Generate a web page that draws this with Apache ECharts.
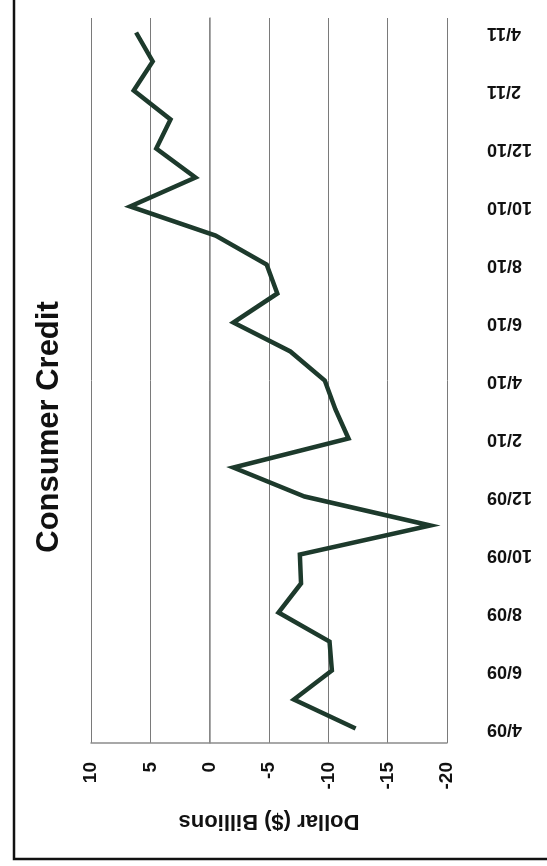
<!DOCTYPE html>
<html>
<head>
<meta charset="utf-8">
<title>Consumer Credit</title>
<script src="https://cdn.jsdelivr.net/npm/echarts@6/dist/echarts.min.js"></script>
<style>
  html, body { margin: 0; padding: 0; background: #fff; }
  #chart { width: 547px; height: 866px; }
</style>
</head>
<body>
<div id="chart"></div>
<script>
// 月份（每月一个点，标签隔一个显示）
const months = [
  '4/09', '5/09', '6/09', '7/09', '8/09', '9/09', '10/09', '11/09', '12/09',
  '1/10', '2/10', '3/10', '4/10', '5/10', '6/10', '7/10', '8/10', '9/10',
  '10/10', '11/10', '12/10', '1/11', '2/11', '3/11', '4/11'
];
// 消费信贷变化（十亿美元）
const creditChange = [
  -12.3, -7.1, -10.3, -10.1, -5.8, -7.7, -7.6, -18.6, -8.0,
  -2.0, -11.7, -10.6, -9.7, -6.8, -2.0, -5.7, -4.8, -0.5,
  6.7, 1.2, 4.5, 3.3, 6.4, 4.8, 6.2
];
const valueTicks = { min: -20, max: 10, step: 5 };

const chartDom = document.getElementById('chart');
const myChart = echarts.init(chartDom);

const option = {
  backgroundColor: '#ffffff',
  animation: false,
  grid: {
    left: 91,
    right: 100,
    top: 18,
    bottom: 123,
    containLabel: false,
    outerBoundsMode: 'none'
  },
  graphic: [
    {
      // 外框（只露出左边和下边）
      type: 'rect',
      shape: { x: 14, y: -20, width: 600, height: 879 },
      style: { fill: 'none', stroke: '#111', lineWidth: 2.5 },
      silent: true
    },
    {
      type: 'text',
      x: 49,
      y: 427,
      rotation: Math.PI / 2,
      style: {
        text: 'Consumer Credit',
        font: 'bold 31px "Liberation Sans", Arial, sans-serif',
        fill: '#111',
        textAlign: 'center',
        textVerticalAlign: 'middle'
      }
    }
  ],
  xAxis: {
    type: 'value',
    inverse: true,
    min: valueTicks.min,
    max: valueTicks.max,
    interval: valueTicks.step,
    position: 'bottom',
    name: 'Dollar ($) Billions',
    nameLocation: 'middle',
    nameRotate: 180,
    nameGap: 67,
    nameTextStyle: {
      color: '#111',
      fontSize: 22,
      fontWeight: 'bold',
      fontFamily: '"Liberation Sans", Arial, sans-serif'
    },
    axisLine: { show: true, lineStyle: { color: '#8c8c8c', width: 1.5 } },
    axisTick: { show: false },
    axisLabel: {
      rotate: 90,
      margin: 19,
      color: '#111',
      fontSize: 19,
      fontWeight: 'bold',
      fontFamily: '"Liberation Sans", Arial, sans-serif'
    },
    splitLine: { show: true, lineStyle: { color: '#7a7a7a', width: 1 } }
  },
  yAxis: {
    type: 'category',
    position: 'right',
    data: months,
    boundaryGap: true,
    axisLine: { show: true, lineStyle: { color: '#8c8c8c', width: 1.5 } },
    axisTick: { show: false },
    axisLabel: {
      interval: 1, // 隔一个月显示
      rotate: 180,
      margin: 40,
      color: '#111',
      fontSize: 18,
      fontWeight: 'bold',
      fontFamily: '"Liberation Sans", Arial, sans-serif'
    },
    splitLine: { show: false }
  },
  series: [
    {
      type: 'line',
      data: creditChange,
      symbol: 'none',
      lineStyle: { color: '#1d3a2c', width: 4.5, join: 'miter' },
      itemStyle: { color: '#1d3a2c' }
    }
  ]
};

myChart.setOption(option);
window.addEventListener('resize', () => myChart.resize());
</script>
</body>
</html>
